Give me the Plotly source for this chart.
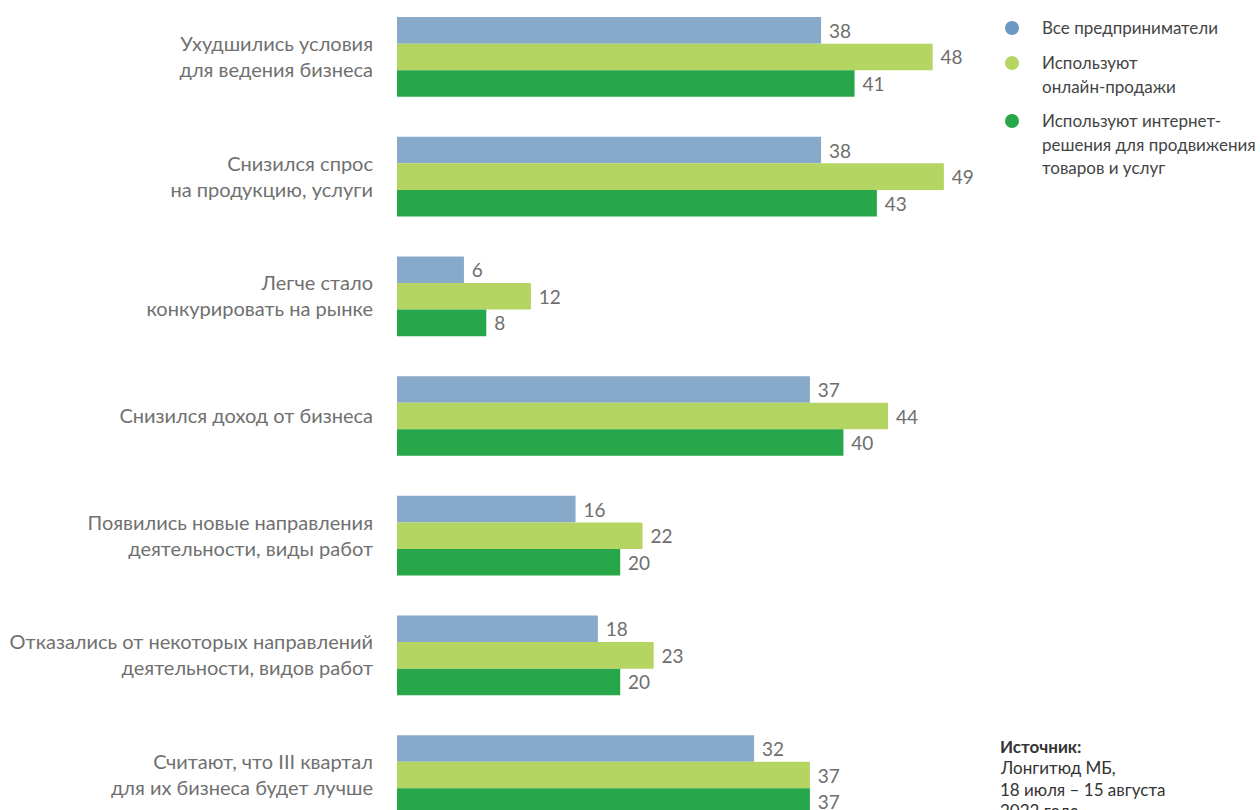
import plotly.graph_objects as go

# Survey categories (top to bottom)
categories = [
    "Ухудшились условия<br>для ведения бизнеса",
    "Снизился спрос<br>на продукцию, услуги",
    "Легче стало<br>конкурировать на рынке",
    "Снизился доход от бизнеса",
    "Появились новые направления<br>деятельности, виды работ",
    "Отказались от некоторых направлений<br>деятельности, видов работ",
    "Считают, что III квартал<br>для их бизнеса будет лучше",
]

series_names = [
    "Все предприниматели",
    "Используют<br>онлайн-продажи",
    "Используют интернет-<br>решения для продвижения<br>товаров и услуг",
]

all_entrepreneurs = [38, 38, 6, 37, 16, 18, 32]
online_sales = [48, 49, 12, 44, 22, 23, 37]
internet_promo = [41, 43, 8, 40, 20, 20, 37]

series_values = [all_entrepreneurs, online_sales, internet_promo]
bar_colors = ["#88AACA", "#B5D562", "#27A74A"]
dot_colors = ["#6A98C2", "#B5D562", "#27A74A"]

source_lines = ["<b>Источник:</b>", "Лонгитюд МБ,", "18 июля – 15 августа", "2022 года"]

W, H = 1260, 810
LEFT = 397
PX_PER_UNIT = 11.16

fig = go.Figure()
for name, vals, col in zip(series_names, series_values, bar_colors):
    fig.add_trace(go.Bar(
        y=categories, x=vals, name=name, orientation="h",
        marker=dict(color=col, line=dict(width=0)),
        text=vals, texttemplate=" %{x}", textposition="outside",
        textfont=dict(family="Lato, sans-serif", size=19, color="#6E6E6E"),
        cliponaxis=False,
    ))

# legend drawn by hand at the right side
def px_x(p):
    return (p - LEFT) / (W - LEFT)

def px_y(p):
    return 1 - p / H

shapes = []
annotations = []
legend_tops = [28, 63, 121]
r = 7
for top, col, name in zip(legend_tops, dot_colors, series_names):
    shapes.append(dict(type="circle", xref="paper", yref="paper",
                       x0=px_x(1012 - r), x1=px_x(1012 + r),
                       y0=px_y(top - r), y1=px_y(top + r),
                       fillcolor=col, line=dict(width=0)))
    for k, line in enumerate(name.split("<br>")):
        annotations.append(dict(xref="paper", yref="paper",
                                x=px_x(1040), y=px_y(top + 23 * k),
                                xanchor="left", yanchor="middle", showarrow=False,
                                text=line, align="left",
                                font=dict(family="Lato, sans-serif", size=17, color="#444444")))

for k, line in enumerate(source_lines):
    annotations.append(dict(xref="paper", yref="paper",
                            x=px_x(998), y=px_y(746 + 21.5 * k),
                            xanchor="left", yanchor="middle", showarrow=False,
                            text=line, align="left",
                            font=dict(family="Lato, sans-serif", size=17, color="#333333")))

fig.update_layout(
    width=W, height=H,
    margin=dict(l=LEFT, r=0, t=0, b=0),
    paper_bgcolor="white", plot_bgcolor="white",
    barmode="group", bargap=0.334, bargroupgap=0,
    showlegend=False,
    shapes=shapes, annotations=annotations,
    xaxis=dict(range=[0, (W - LEFT) / PX_PER_UNIT], visible=False, showgrid=False, zeroline=False),
    yaxis=dict(
        categoryorder="array", categoryarray=categories,
        range=[6.292, -0.476],
        showgrid=False, zeroline=False, showline=False, ticks="",
        ticklabelstandoff=23,
        tickfont=dict(family="Lato, sans-serif", size=20, color="#707070"),
    ),
)

fig.write_html("out.html")
